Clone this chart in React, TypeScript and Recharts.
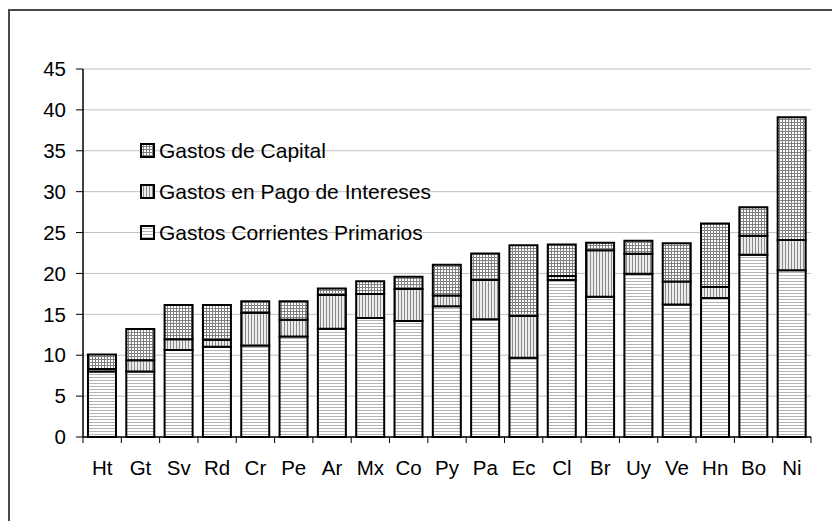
import { Bar, BarChart, CartesianGrid, Legend, XAxis, YAxis } from 'recharts';

const paises = ['Ht', 'Gt', 'Sv', 'Rd', 'Cr', 'Pe', 'Ar', 'Mx', 'Co', 'Py', 'Pa', 'Ec', 'Cl', 'Br', 'Uy', 'Ve', 'Hn', 'Bo', 'Ni'];
const corrientes = [8.0, 8.0, 10.65, 11.05, 11.2, 12.3, 13.25, 14.55, 14.2, 16.0, 14.4, 9.7, 19.2, 17.15, 19.95, 16.2, 17.0, 22.3, 20.4];
const intereses = [0.3, 1.4, 1.3, 0.85, 4.0, 2.05, 4.1, 2.95, 3.9, 1.3, 4.8, 5.1, 0.5, 5.7, 2.45, 2.8, 1.35, 2.3, 3.7];
const capital = [1.8, 3.8, 4.2, 4.25, 1.4, 2.25, 0.8, 1.55, 1.5, 3.75, 3.25, 8.65, 3.85, 0.9, 1.6, 4.7, 7.75, 3.5, 15.0];
const yTicks = [0, 5, 10, 15, 20, 25, 30, 35, 40, 45];

const series = [
  { key: 'corrientes', name: 'Gastos Corrientes Primarios', fill: 'url(#hLines)' },
  { key: 'intereses', name: 'Gastos en Pago de Intereses', fill: 'url(#vLines)' },
  { key: 'capital', name: 'Gastos de Capital', fill: 'url(#grid)' },
];

const data = paises.map((pais, i) => ({
  pais,
  corrientes: corrientes[i],
  intereses: intereses[i],
  capital: capital[i],
}));

const W = 832;
const H = 521;
const margin = { top: 61, right: 29, bottom: 62, left: 15 };
const plotW = W - margin.left - 60 - margin.right;
const font = '"Liberation Sans", Arial, sans-serif';
const fs = 20.5;

const XTick = (props: any) => {
  const { x, y, payload, index } = props;
  const band = plotW / paises.length;
  return (
    <g>
      <line x1={x - band / 2} x2={x - band / 2} y1={y} y2={y + 6} stroke="#000" />
      {index === paises.length - 1 && (
        <line x1={x + band / 2} x2={x + band / 2} y1={y} y2={y + 6} stroke="#000" />
      )}
      <text x={x} y={y + 38} textAnchor="middle" fontSize={fs} fill="#000" fontFamily={font}>
        {payload.value}
      </text>
    </g>
  );
};

const LegendBox = () => (
  <div style={{ fontFamily: font, fontSize: fs + 0.5, color: '#000' }}>
    {[...series].reverse().map((s) => (
      <div key={s.key} style={{ height: 41, display: 'flex', alignItems: 'center', whiteSpace: 'nowrap' }}>
        <svg width={15} height={15} style={{ marginRight: 4 }}>
          <rect x={1} y={1} width={13} height={13} fill={s.fill} stroke="#000" strokeWidth={2} />
        </svg>
        <span>{s.name}</span>
      </div>
    ))}
  </div>
);

export default function App() {
  return (
    // 513 high so the page (8px margins) is exactly 529; chart overflows into the bottom margin
    <div style={{ position: 'relative', width: W, height: H - 8, background: '#fff' }}>
      {/* frame: only top and left edges are inside the window */}
      <div style={{ position: 'absolute', left: 0, top: 1, width: W, height: 2, background: '#4a4a4a' }} />
      <div style={{ position: 'absolute', left: 0, top: 1, width: 2, height: H - 1, background: '#4a4a4a' }} />
      <BarChart
        width={W}
        height={H}
        data={data}
        margin={margin}
        barCategoryGap="13%"
        style={{ fontFamily: font }}
      >
        <defs>
          <pattern id="hLines" width={3} height={3} patternUnits="userSpaceOnUse">
            <rect width={3} height={3} fill="#fff" />
            <rect y={0} width={3} height={1} fill="#b4b4b4" />
          </pattern>
          <pattern id="vLines" width={3} height={3} patternUnits="userSpaceOnUse">
            <rect width={3} height={3} fill="#ececec" />
            <rect x={0} width={1} height={3} fill="#8a8a8a" />
          </pattern>
          <pattern id="grid" width={3} height={3} patternUnits="userSpaceOnUse">
            <rect width={3} height={3} fill="#fff" />
            <rect x={0} width={1} height={3} fill="#808080" />
            <rect y={0} width={3} height={1} fill="#808080" />
          </pattern>
        </defs>
        <CartesianGrid vertical={false} stroke="#c0c0c0" />
        <XAxis
          dataKey="pais"
          interval={0}
          height={30}
          tickSize={0}
          tickMargin={0}
          tickLine={false}
          axisLine={{ stroke: '#000', strokeWidth: 1.5 }}
          tick={<XTick />}
        />
        <YAxis
          width={60}
          domain={[0, 45]}
          ticks={yTicks}
          interval={0}
          tickSize={7}
          tickMargin={10}
          axisLine={{ stroke: '#000', strokeWidth: 1.5 }}
          tickLine={{ stroke: '#000' }}
          tick={{ fontSize: fs, fill: '#000', fontFamily: font }}
        />
        <Legend
          layout="vertical"
          align="center"
          verticalAlign="middle"
          wrapperStyle={{ left: 132, top: 122, width: 'auto' }}
          content={() => <LegendBox />}
        />
        {series.map((s) => (
          <Bar
            key={s.key}
            dataKey={s.key}
            name={s.name}
            stackId="gasto"
            fill={s.fill}
            stroke="#000"
            strokeWidth={2}
            isAnimationActive={false}
          />
        ))}
      </BarChart>
    </div>
  );
}
